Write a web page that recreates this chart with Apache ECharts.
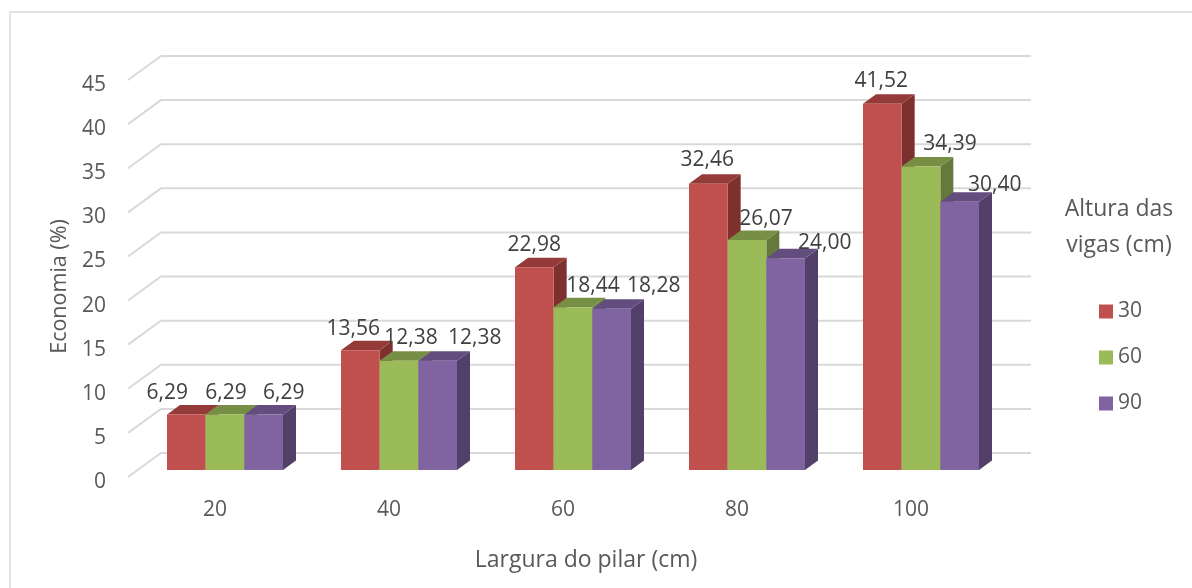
<!DOCTYPE html>
<html>
<head>
<meta charset="utf-8">
<title>Economia</title>
<script src="https://cdn.jsdelivr.net/npm/echarts@6/dist/echarts.min.js"></script>
<style>
html,body{margin:0;padding:0;background:#fff;}
#chart{width:1192px;height:588px;}
</style>
</head>
<body>
<div id="chart"></div>
<script>
'use strict';
var categories = ['20', '40', '60', '80', '100'];
var seriesNames = ['30', '60', '90'];
var values30 = [6.29, 13.56, 22.98, 32.46, 41.52];
var values60 = [6.29, 12.38, 18.44, 26.07, 34.39];
var values90 = [6.29, 12.38, 18.28, 24.00, 30.40];
var yTicks = [0, 5, 10, 15, 20, 25, 30, 35, 40, 45];

// face colours of each series: front, top, side
var faces = [
    ['#c0504d', '#943b39', '#7d302e'],
    ['#9bbb59', '#778f45', '#65793a'],
    ['#8064a2', '#634d7e', '#53406a']
];
// hand placed labels in the original, px from the bar's top centre
var labelNudge = [
    [[-19, -21], [-7, -21], [0, -22], [-1, -24], [-1, -23]],
    [[1, -21], [12, -23], [20, -21], [19, -21], [29, -23]],
    [[20, -21], [37, -23], [42, -23], [39, -15], [35, -17]]
];
var font = '"Open Sans", "Noto Sans", sans-serif';
var wallDepth = [33, -24];   // floor front to back wall
var barPlane = [10, -7];     // floor front to bar front
var barDepth = [13, -9.5];   // depth of one bar

function wallItem(params, api) {
    var p = api.coord([0, api.value(0)]);
    var last = api.coord([categories.length - 1, api.value(0)]);
    var band = api.size([1, 0])[0];
    var left = p[0] - band / 2;
    var right = last[0] + band / 2 + wallDepth[0];
    var backY = p[1] + wallDepth[1];
    return {
        type: 'polyline',
        shape: { points: [[left, p[1]], [left + wallDepth[0], backY], [right, backY]] },
        style: { fill: null, stroke: '#d9d9d9', lineWidth: 2 }
    };
}

function barItem(s) {
    return function (params, api) {
        var cat = api.value(0), val = api.value(1);
        var top = api.coord([cat, val]);
        var base = api.coord([cat, 0]);
        var w = api.size([1, 0])[0] * 2 / 9;
        var x0 = top[0] + barPlane[0] + (s - 1.5) * w;
        var x1 = x0 + w;
        var y0 = top[1] + barPlane[1];
        var y1 = base[1] + barPlane[1];
        var dx = barDepth[0], dy = barDepth[1];
        var nudge = labelNudge[s][cat];
        return {
            type: 'group',
            children: [
                { type: 'polygon', shape: { points: [[x1, y0], [x1 + dx, y0 + dy], [x1 + dx, y1 + dy], [x1, y1]] }, style: { fill: faces[s][2] } },
                { type: 'polygon', shape: { points: [[x0, y0], [x0 + dx, y0 + dy], [x1 + dx, y0 + dy], [x1, y0]] }, style: { fill: faces[s][1] } },
                { type: 'rect', shape: { x: x0, y: y0, width: w, height: y1 - y0 }, style: { fill: faces[s][0] } },
                { type: 'text', z2: 50, style: {
                    x: (x0 + x1) / 2 + nudge[0],
                    y: y0 + nudge[1],
                    text: val.toFixed(2).replace('.', ','),
                    align: 'center',
                    verticalAlign: 'middle',
                    fill: '#404040',
                    font: '21px ' + font
                } }
            ]
        };
    };
}

function barSeries(s, vals) {
    return {
        name: seriesNames[s],
        type: 'custom',
        renderItem: barItem(s),
        itemStyle: { color: faces[s][0] },
        encode: { x: 0, y: 1 },
        z: 3 + s,
        data: vals.map(function (v, i) { return [i, v]; })
    };
}

var option = {
    animation: false,
    backgroundColor: '#fff',
    textStyle: { fontFamily: font },
    grid: { left: 128, width: 870, top: 80, height: 397 },
    title: {
        text: 'Altura das\nvigas (cm)',
        left: 1114, top: 186,
        textAlign: 'center',
        textStyle: { color: '#595959', fontSize: 23, fontWeight: 'normal', lineHeight: 36, fontFamily: font }
    },
    legend: {
        data: seriesNames,
        orient: 'vertical',
        left: 1094, top: 296,
        icon: 'rect',
        itemWidth: 14, itemHeight: 14, itemGap: 25,
        textStyle: { color: '#595959', fontSize: 21, fontFamily: font }
    },
    xAxis: {
        type: 'category',
        data: categories,
        name: 'Largura do pilar (cm)',
        nameLocation: 'middle',
        nameGap: 72,
        nameTextStyle: { color: '#595959', fontSize: 23, padding: [0, 0, 0, 46], fontFamily: font },
        axisLine: { show: false },
        axisTick: { show: false },
        axisLabel: { color: '#595959', fontSize: 21, margin: 23, fontFamily: font }
    },
    yAxis: {
        type: 'value',
        min: 0, max: 45, interval: 5,
        name: 'Economia (%)',
        nameLocation: 'middle',
        nameGap: 56,
        nameTextStyle: { color: '#595959', fontSize: 21.5, padding: [0, 16, 0, 0], fontFamily: font },
        axisLine: { show: false },
        axisTick: { show: false },
        splitLine: { show: false },
        axisLabel: { color: '#595959', fontSize: 21, margin: 22, verticalAlign: 'top', lineHeight: 10, fontFamily: font }
    },
    graphic: [{
        type: 'polyline',
        silent: true,
        shape: { points: [[10, 600], [10, 12], [1192, 12]] },
        style: { fill: null, stroke: '#d9d9d9', lineWidth: 1.5 }
    }],
    series: [{
        type: 'custom',
        renderItem: wallItem,
        encode: { y: 0 },
        z: 1,
        silent: true,
        data: yTicks.map(function (v) { return [v]; })
    }, barSeries(0, values30), barSeries(1, values60), barSeries(2, values90)]
};
echarts.init(document.getElementById('chart')).setOption(option);
</script>
</body>
</html>
